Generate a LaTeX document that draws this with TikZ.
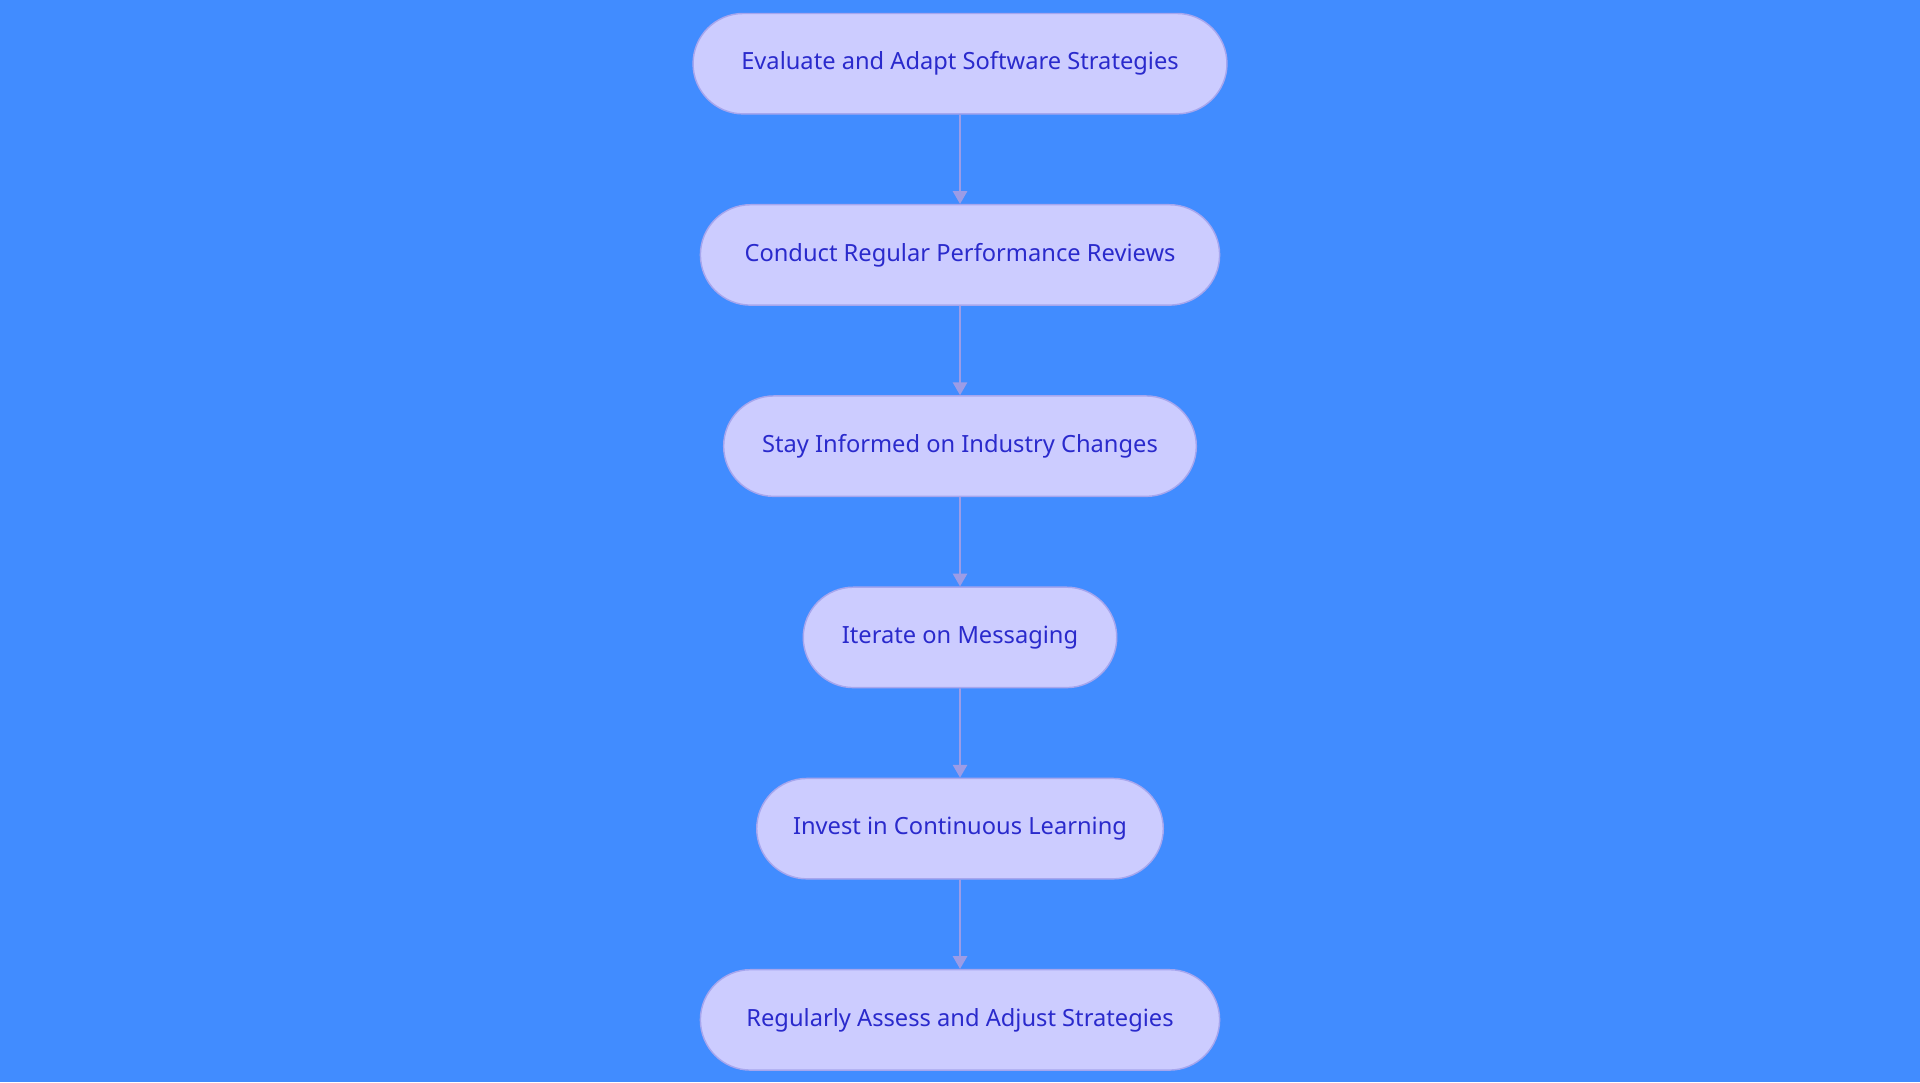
\documentclass[tikz,border=0pt]{standalone}
\usepackage{fontspec}
\setmainfont{Noto Sans}
\usepackage{xcolor}
\usetikzlibrary{shapes.misc,arrows.meta,positioning}
\definecolor{bgblue}{HTML}{418CFF}
\definecolor{stepfill}{HTML}{CCCCFF}
\definecolor{stepline}{HTML}{A6A6EE}
\definecolor{steptext}{HTML}{2A2ACC}
\definecolor{flowline}{HTML}{9C9CE6}

\begin{document}
\begin{tikzpicture}[x=0.03cm,y=0.03cm,
  stage/.style={rounded rectangle, draw=stepline, line width=1pt, fill=stepfill,
    text=steptext, font=\fontsize{16.5}{20}\selectfont, minimum height=2.46cm, inner sep=0pt},
  flow/.style={draw=flowline, line width=1.3pt, -{Triangle[length=9pt,width=10pt]}},
  node distance=2.19cm]
	\fill[bgblue] (0,0) rectangle (1568,-884);
	\useasboundingbox (0,0) rectangle (1568,-884);
	
	\node[stage, minimum width=13.08cm] (evaluate) at (784,-52) {Evaluate and Adapt Software Strategies};
	\node[stage, minimum width=12.72cm, below=of evaluate] (reviews) {Conduct Regular Performance Reviews};
	\node[stage, minimum width=11.58cm, below=of reviews] (informed) {Stay Informed on Industry Changes};
	\node[stage, minimum width=7.68cm, below=of informed] (iterate) {Iterate on Messaging};
	\node[stage, minimum width=9.96cm, below=of iterate] (learning) {Invest in Continuous Learning};
	\node[stage, minimum width=12.72cm, below=of learning] (assess) {Regularly Assess and Adjust Strategies};
	
	\foreach \a/\b in {evaluate/reviews,reviews/informed,informed/iterate,iterate/learning,learning/assess}
		\draw[flow] (\a) -- (\b);
\end{tikzpicture}
\end{document}
